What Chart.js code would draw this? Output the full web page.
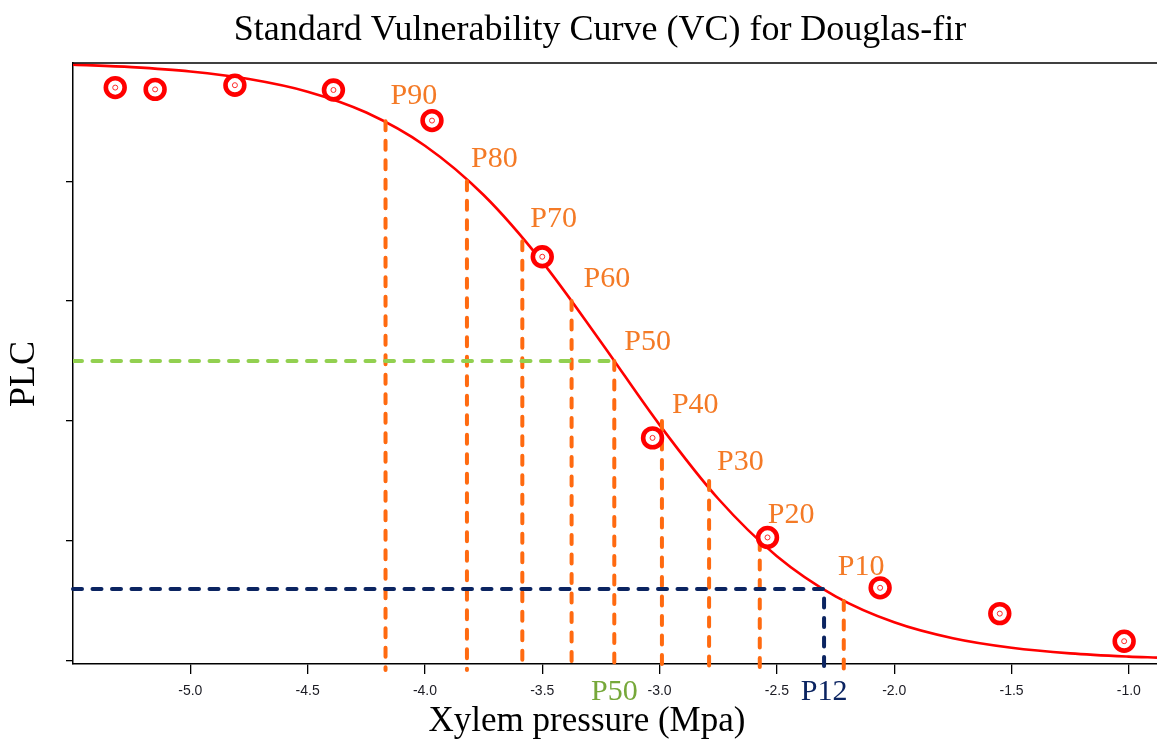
<!DOCTYPE html>
<html>
<head>
<meta charset="utf-8">
<title>Standard Vulnerability Curve (VC) for Douglas-fir</title>
<script src="https://cdn.jsdelivr.net/npm/chart.js@4.4.1/dist/chart.umd.min.js"></script>
<style>
  html, body { margin: 0; padding: 0; background: #fff; }
</style>
</head>
<body>
<canvas id="vc" width="1157" height="749"></canvas>
<script>
// measured points (xylem pressure in MPa, percent loss of conductivity)
var obsPressure = [-5.32, -5.15, -4.81, -4.39, -3.97, -3.50, -3.03, -2.54, -2.06, -1.55, -1.02];
var obsPLC = [95.6, 95.3, 96.0, 95.2, 90.1, 67.4, 37.2, 20.6, 12.2, 7.9, 3.3];

// fitted curve
var fitPressure = [-5.5, -5.25, -5.0, -4.75, -4.5, -4.25, -4.0, -3.75, -3.5, -3.25, -3.0,
                   -2.75, -2.5, -2.25, -2.0, -1.75, -1.5, -1.25, -1.0, -0.88];
var fitPLC = [99.43, 99.01, 98.29, 97.03, 94.92, 91.44, 85.91, 77.69, 66.55, 53.19, 39.37,
              27.05, 17.48, 10.79, 6.46, 3.80, 2.21, 1.27, 0.73, 0.56];

// P-values
var pNames = ['P90', 'P80', 'P70', 'P60', 'P50', 'P40', 'P30', 'P20', 'P10'];
var pLevels = [90, 80, 70, 60, 50, 40, 30, 20, 10];
var pPressure = [-4.168, -3.821, -3.585, -3.375, -3.193, -2.990, -2.789, -2.573, -2.215];

var p50Pressure = -3.193;
var p50Level = 50;
var p12Pressure = -2.299;
var p12Level = 12;

var xTicks = [-5.0, -4.5, -4.0, -3.5, -3.0, -2.5, -2.0, -1.5, -1.0];
var yTicks = [0, 20, 40, 60, 80];

var xMin = -5.5, xMax = -0.88, yMin = -0.5, yMax = 99.7;
var dropTo = -1.5; // dashed drops run a little past the axis line

var chartTitle = 'Standard Vulnerability Curve (VC) for Douglas-fir';
var xTitle = 'Xylem pressure (Mpa)';
var yTitle = 'PLC';

// where each Pxx label sits relative to the top of its drop line (px)
var labelNudge = [[5, -17], [4, -14], [8, -14], [12, -14], [10, -11], [10, -8], [8, -11], [8, -18], [-6, -26]];

var orange = '#ff6a10';
var orangeText = '#f47a26';
var green = '#92d050';
var greenText = '#76a83a';
var navy = '#0b2461';
var serif = "'Liberation Serif', 'DejaVu Serif', serif";

var ctx = document.getElementById('vc').getContext('2d');

function pts(xs, ys) {
    var out = [];
    for (var i = 0; i < xs.length; i++) out.push({x: xs[i], y: ys[i]});
    return out;
}

var datasets = [];

datasets.push({
    label: 'fit',
    data: pts(fitPressure, fitPLC),
    borderColor: '#ff0000',
    borderWidth: 2.6,
    pointRadius: 0,
    cubicInterpolationMode: 'monotone',
    showLine: true,
    order: 5
});

for (var i = 0; i < pPressure.length; i++) {
    datasets.push({
        label: pNames[i],
        data: [{x: pPressure[i], y: pLevels[i]}, {x: pPressure[i], y: dropTo}],
        borderColor: orange,
        borderWidth: 4,
        borderDash: [9, 10.5],
        borderCapStyle: 'round',
        pointRadius: 0,
        showLine: true,
        clip: false,
        order: 4
    });
}

datasets.push({
    label: 'P50 level',
    data: [{x: xMin, y: p50Level}, {x: p50Pressure, y: p50Level}],
    borderColor: green,
    borderWidth: 4,
    borderDash: [9, 10.5],
    borderCapStyle: 'round',
    pointRadius: 0,
    showLine: true,
    order: 3
});

datasets.push({
    label: 'P12',
    data: [{x: xMin, y: p12Level}, {x: p12Pressure, y: p12Level}, {x: p12Pressure, y: dropTo}],
    borderColor: navy,
    borderWidth: 4,
    borderDash: [9, 10.5],
    borderCapStyle: 'round',
    pointRadius: 0,
    showLine: true,
    clip: false,
    order: 3
});

// ring markers with a small dot in the middle
datasets.push({
    label: 'observed',
    data: pts(obsPressure, obsPLC),
    showLine: false,
    pointRadius: 9.4,
    pointBorderWidth: 4.6,
    pointBorderColor: '#ff0000',
    pointBackgroundColor: '#ffffff',
    order: 2
});
datasets.push({
    label: 'observed centre',
    data: pts(obsPressure, obsPLC),
    showLine: false,
    pointRadius: 2.5,
    pointBorderWidth: 1,
    pointBorderColor: '#ff2a2a',
    pointBackgroundColor: '#ffffff',
    order: 1
});

var extras = {
    id: 'extras',
    afterDatasetsDraw: function(chart) {
        var c = chart.ctx;
        var xs = chart.scales.x, ys = chart.scales.y;
        var area = chart.chartArea;
        c.save();
        // top frame line
        c.strokeStyle = '#000';
        c.lineWidth = 1.5;
        c.beginPath();
        c.moveTo(area.left, area.top);
        c.lineTo(area.right, area.top);
        c.stroke();

        // titles
        c.fillStyle = '#000';
        c.font = '36px ' + serif;
        c.textAlign = 'center';
        c.textBaseline = 'alphabetic';
        c.fillText(chartTitle, 600, 40);

        c.font = '35px ' + serif;
        c.textBaseline = 'middle';
        c.fillText(xTitle, 587, 722);

        c.save();
        c.font = '36px ' + serif;
        c.translate(25, 374);
        c.rotate(-Math.PI / 2);
        c.fillText(yTitle, 0, 0);
        c.restore();

        c.font = '30px ' + serif;
        c.textAlign = 'left';
        c.textBaseline = 'alphabetic';
        c.fillStyle = orangeText;
        for (var i = 0; i < pNames.length; i++) {
            var px = xs.getPixelForValue(pPressure[i]);
            var py = ys.getPixelForValue(pLevels[i]);
            c.fillText(pNames[i], px + labelNudge[i][0], py + labelNudge[i][1]);
        }

        c.textAlign = 'center';
        c.textBaseline = 'middle';
        c.fillStyle = greenText;
        c.fillText('P50', xs.getPixelForValue(p50Pressure), 692);
        c.fillStyle = navy;
        c.fillText('P12', xs.getPixelForValue(p12Pressure), 692);
        c.restore();
    }
};

myChart = new Chart(ctx, {
    type: 'scatter',
    data: {datasets: datasets},
    plugins: [extras],
    options: {
        responsive: false,
        animation: false,
        layout: {padding: {top: 63, left: 66, right: 0, bottom: 41}, autoPadding: false},
        plugins: {
            legend: {display: false},
            tooltip: {enabled: false},
            title: {display: false}
        },
        scales: {
            x: {
                type: 'linear',
                position: 'bottom',
                min: xMin,
                max: xMax,
                afterBuildTicks: function(axis) {
                    axis.ticks = xTicks.map(function(v) { return {value: v}; });
                },
                ticks: {
                    color: '#1c1c24',
                    padding: 10,
                    maxRotation: 0,
                    font: {family: "'Liberation Sans', Arial, sans-serif", size: 14, lineHeight: 1},
                    callback: function(v) { return Number(v).toFixed(1); }
                },
                grid: {drawOnChartArea: false, drawTicks: true, tickLength: 10, color: '#000', lineWidth: 1.3},
                border: {color: '#000', width: 1.5},
                title: {display: false}
            },
            y: {
                type: 'linear',
                min: yMin,
                max: yMax,
                afterBuildTicks: function(axis) {
                    axis.ticks = yTicks.map(function(v) { return {value: v}; });
                },
                ticks: {display: false},
                grid: {drawOnChartArea: false, drawTicks: true, tickLength: 7, color: '#000', lineWidth: 1.3},
                border: {color: '#000', width: 1.5},
                title: {display: false}
            }
        }
    }
});
</script>
</body>
</html>
